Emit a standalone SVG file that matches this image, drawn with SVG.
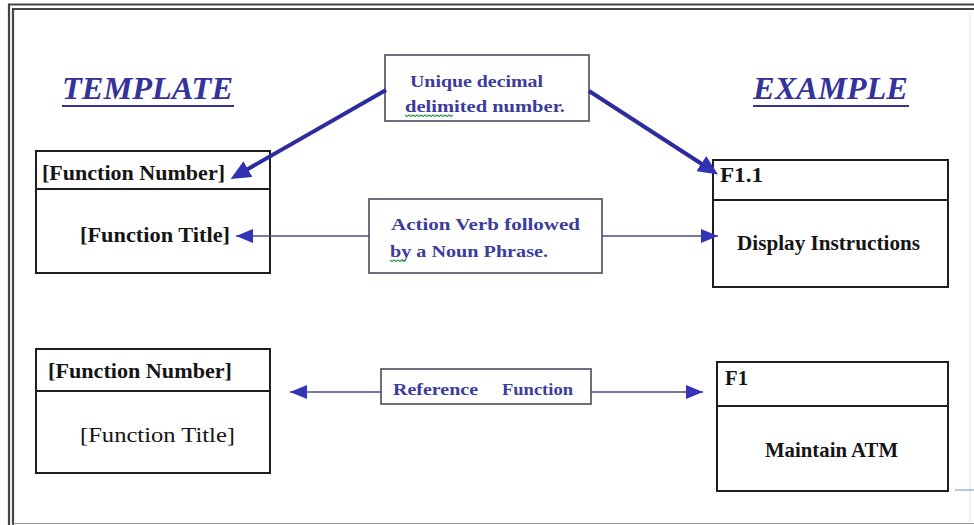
<svg xmlns="http://www.w3.org/2000/svg" width="974" height="525" viewBox="0 0 974 525">
  <style>
    .frame { fill: none; stroke: #444; stroke-width: 2.2; }
    .box { fill: #fff; stroke: #1e1e1e; stroke-width: 2; }
    .sep { stroke: #1e1e1e; stroke-width: 2; }
    .note { fill: #fff; stroke: #4a4a60; stroke-width: 1.6; }
    .heading { font-family: "Liberation Serif", "Times New Roman", serif; font-size: 32px; font-weight: bold; font-style: italic; fill: #33339a; }
    .uline { stroke: #33339a; stroke-width: 2.2; }
    .label { font-family: "Liberation Serif", "Times New Roman", serif; font-size: 20px; font-weight: bold; fill: #151515; }
    .plain { font-weight: normal; }
    .ntext { font-family: "Liberation Serif", "Times New Roman", serif; font-size: 17px; font-weight: bold; fill: #3c3c9c; }
    .thick { stroke: #2c2c9e; stroke-width: 4; fill: none; }
    .thin { stroke: #4a4a80; stroke-width: 1.5; fill: none; }
    .squiggle { stroke: #3a9a50; stroke-width: 1.2; fill: none; }
  </style>
  <defs>
    <marker id="head-thick" markerUnits="userSpaceOnUse" markerWidth="22" markerHeight="18" refX="8" refY="9" orient="auto">
      <path d="M0,0 L20,9 L0,18 Z" fill="#3232b4"/>
    </marker>
    <marker id="head-thin" markerUnits="userSpaceOnUse" markerWidth="18" markerHeight="16" refX="17" refY="8" orient="auto">
      <path d="M0,1 L17,8 L0,15 Z" fill="#3434b8"/>
    </marker>
  </defs>

  <rect width="974" height="525" fill="#fff"/>

  <!-- double-line page frame -->
  <g id="frame">
    <path class="frame" d="M974,4.5 H9 V525"/>
    <path class="frame" d="M974,9 H13 V525"/>
    <line x1="13" y1="523.5" x2="974" y2="523.5" stroke="#9a9a9a" stroke-width="1"/>
    <line x1="970" y1="13" x2="970" y2="523" stroke="#e4e4e4" stroke-width="1"/>
    <line x1="955" y1="490" x2="974" y2="490" stroke="#9fb4d8" stroke-width="1.5"/>
  </g>

  <!-- column headings -->
  <g id="heading-template">
    <text class="heading" x="62" y="99" textLength="171" lengthAdjust="spacingAndGlyphs">TEMPLATE</text>
    <line class="uline" x1="62" y1="106" x2="234" y2="106"/>
  </g>
  <g id="heading-example">
    <text class="heading" x="753" y="99" textLength="155" lengthAdjust="spacingAndGlyphs">EXAMPLE</text>
    <line class="uline" x1="753" y1="106" x2="909" y2="106"/>
  </g>

  <!-- template, upper -->
  <g id="template-1">
    <rect class="box" x="36" y="151" width="234" height="122"/>
    <line class="sep" x1="36" y1="189" x2="270" y2="189"/>
    <text class="label" x="42" y="180" textLength="183" lengthAdjust="spacingAndGlyphs">[Function Number]</text>
    <text class="label" x="80" y="242" textLength="150" lengthAdjust="spacingAndGlyphs">[Function Title]</text>
  </g>

  <!-- template, lower -->
  <g id="template-2">
    <rect class="box" x="36" y="349" width="234" height="124"/>
    <line class="sep" x1="36" y1="391" x2="270" y2="391"/>
    <text class="label" x="48" y="378" textLength="184" lengthAdjust="spacingAndGlyphs">[Function Number]</text>
    <text class="label plain" x="80" y="442" textLength="155" lengthAdjust="spacingAndGlyphs">[Function  Title]</text>
  </g>

  <!-- example, upper -->
  <g id="example-1">
    <rect class="box" x="713" y="160" width="235" height="127"/>
    <line class="sep" x1="713" y1="200" x2="948" y2="200"/>
    <text class="label" x="720" y="182" textLength="43" lengthAdjust="spacingAndGlyphs">F1.1</text>
    <text class="label" x="737" y="250" textLength="183" lengthAdjust="spacingAndGlyphs">Display  Instructions</text>
  </g>

  <!-- example, lower -->
  <g id="example-2">
    <rect class="box" x="717" y="362" width="231" height="129"/>
    <line class="sep" x1="717" y1="406" x2="948" y2="406"/>
    <text class="label" x="725" y="385" textLength="23" lengthAdjust="spacingAndGlyphs">F1</text>
    <text class="label" x="765" y="457" textLength="133" lengthAdjust="spacingAndGlyphs">Maintain  ATM</text>
  </g>

  <!-- explanatory notes -->
  <g id="note-number">
    <rect class="note" x="385" y="55" width="204" height="66"/>
    <text class="ntext" x="410" y="87" textLength="133" lengthAdjust="spacingAndGlyphs">Unique  decimal</text>
    <text class="ntext" x="405" y="112" textLength="160" lengthAdjust="spacingAndGlyphs">delimited  number.</text>
    <path class="squiggle" d="M405,115 l2,1.5 l2,-1.5 l2,1.5 l2,-1.5 l2,1.5 l2,-1.5 l2,1.5 l2,-1.5 l2,1.5 l2,-1.5 l2,1.5 l2,-1.5 l2,1.5 l2,-1.5 l2,1.5 l2,-1.5 l2,1.5 l2,-1.5 l2,1.5 l2,-1.5 l2,1.5 l2,-1.5 l2,1.5 l2,-1.5"/>
  </g>

  <g id="note-title">
    <rect class="note" x="369" y="199" width="233" height="74"/>
    <text class="ntext" x="391" y="230" textLength="189" lengthAdjust="spacingAndGlyphs">Action  Verb  followed</text>
    <text class="ntext" x="390" y="257" textLength="158" lengthAdjust="spacingAndGlyphs">by  a  Noun  Phrase.</text>
    <path class="squiggle" d="M390,260 l2,1.5 l2,-1.5 l2,1.5 l2,-1.5 l2,1.5 l2,-1.5 l2,1.5 l2,-1.5"/>
  </g>

  <g id="note-reference">
    <rect class="note" x="381" y="369" width="210" height="35"/>
    <text class="ntext" y="395"><tspan x="393" textLength="85" lengthAdjust="spacingAndGlyphs">Reference</tspan><tspan x="502" textLength="71" lengthAdjust="spacingAndGlyphs">Function</tspan></text>
  </g>

  <!-- connectors, drawn last so the heads sit over the box interiors -->
  <g id="connectors">
    <line class="thick" x1="386" y1="90" x2="241" y2="173" marker-end="url(#head-thick)"/>
    <line class="thick" x1="589" y1="91" x2="708" y2="168" marker-end="url(#head-thick)"/>
    <line class="thin" x1="369" y1="236" x2="236" y2="236" marker-end="url(#head-thin)"/>
    <line class="thin" x1="602" y1="236" x2="718" y2="236" marker-end="url(#head-thin)"/>
    <line class="thin" x1="381" y1="392" x2="290" y2="392" marker-end="url(#head-thin)"/>
    <line class="thin" x1="591" y1="392" x2="703" y2="392" marker-end="url(#head-thin)"/>
  </g>
</svg>
